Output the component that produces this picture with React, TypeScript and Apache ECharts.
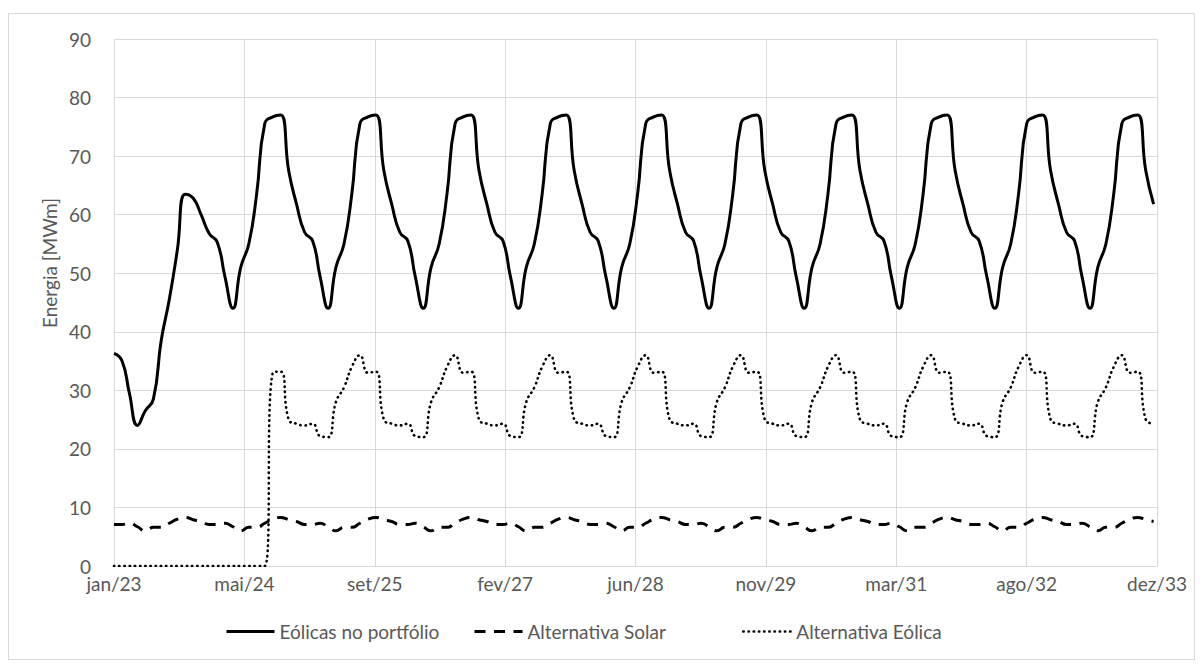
import React, { useEffect, useRef } from "react";
import * as echarts from "echarts";

// ---- categories (monthly, jan/23 .. dez/33) ----
const START_YEAR = 2023;
const MONTH_COUNT = 132;
const monthDates = Array.from({ length: MONTH_COUNT }, (_, i) => Date.UTC(START_YEAR, i, 1));

// ---- x axis tick labels (one every 500 days from 01/jan/23) ----
const xTickLabels = ["jan/23", "mai/24", "set/25", "fev/27", "jun/28", "nov/29", "mar/31", "ago/32", "dez/33"];
const X_TICK_DAYS = 500;

// ---- series values (MWm) ----
const eolicasPortfolio = [
  36.3, 35, 29.5, 24, 26.5, 28.5, 38.5, 45.5, 54, 63.5, 62.8, 60,
  56.8, 55.3, 49.5, 44, 51, 55, 63.5, 75.5, 76.7, 77, 67.5, 61.8,
  57, 55.5, 49.5, 44, 51, 55, 63.5, 75.5, 76.7, 77, 67.5, 61.8,
  57, 55.5, 49.5, 44, 51, 55, 63.5, 75.5, 76.7, 77, 67.5, 61.8,
  57, 55.5, 49.5, 44, 51, 55, 63.5, 75.5, 76.7, 77, 67.5, 61.8,
  57, 55.5, 49.5, 44, 51, 55, 63.5, 75.5, 76.7, 77, 67.5, 61.8,
  57, 55.5, 49.5, 44, 51, 55, 63.5, 75.5, 76.7, 77, 67.5, 61.8,
  57, 55.5, 49.5, 44, 51, 55, 63.5, 75.5, 76.7, 77, 67.5, 61.8,
  57, 55.5, 49.5, 44, 51, 55, 63.5, 75.5, 76.7, 77, 67.5, 61.8,
  57, 55.5, 49.5, 44, 51, 55, 63.5, 75.5, 76.7, 77, 67.5, 61.8,
  57, 55.5, 49.5, 44, 51, 55, 63.5, 75.5, 76.7, 77, 67.5, 61.8,
];

const alternativaSolar = [
  7.1, 7.1, 7.3, 6.7, 6.0, 6.6, 6.6, 7.3, 8.0, 8.3, 7.9, 7.6,
  7.1, 7.1, 7.3, 6.7, 6.0, 6.6, 6.6, 7.3, 8.0, 8.3, 7.9, 7.6,
  7.1, 7.1, 7.3, 6.7, 6.0, 6.6, 6.6, 7.3, 8.0, 8.3, 7.9, 7.6,
  7.1, 7.1, 7.3, 6.7, 6.0, 6.6, 6.6, 7.3, 8.0, 8.3, 7.9, 7.6,
  7.1, 7.1, 7.3, 6.7, 6.0, 6.6, 6.6, 7.3, 8.0, 8.3, 7.9, 7.6,
  7.1, 7.1, 7.3, 6.7, 6.0, 6.6, 6.6, 7.3, 8.0, 8.3, 7.9, 7.6,
  7.1, 7.1, 7.3, 6.7, 6.0, 6.6, 6.6, 7.3, 8.0, 8.3, 7.9, 7.6,
  7.1, 7.1, 7.3, 6.7, 6.0, 6.6, 6.6, 7.3, 8.0, 8.3, 7.9, 7.6,
  7.1, 7.1, 7.3, 6.7, 6.0, 6.6, 6.6, 7.3, 8.0, 8.3, 7.9, 7.6,
  7.1, 7.1, 7.3, 6.7, 6.0, 6.6, 6.6, 7.3, 8.0, 8.3, 7.9, 7.6,
  7.1, 7.1, 7.3, 6.7, 6.0, 6.6, 6.6, 7.3, 8.0, 8.3, 7.9, 7.6,
];

const alternativaEolica = [
  0, 0, 0, 0, 0, 0, 0, 0, 0, 0, 0, 0,
  0, 0, 0, 0, 0, 0, 0, 0, 33, 33.2, 25, 24.3,
  24, 24.3, 22.2, 22, 28, 30.5, 34, 36, 33, 33.2, 25, 24.3,
  24, 24.3, 22.2, 22, 28, 30.5, 34, 36, 33, 33.2, 25, 24.3,
  24, 24.3, 22.2, 22, 28, 30.5, 34, 36, 33, 33.2, 25, 24.3,
  24, 24.3, 22.2, 22, 28, 30.5, 34, 36, 33, 33.2, 25, 24.3,
  24, 24.3, 22.2, 22, 28, 30.5, 34, 36, 33, 33.2, 25, 24.3,
  24, 24.3, 22.2, 22, 28, 30.5, 34, 36, 33, 33.2, 25, 24.3,
  24, 24.3, 22.2, 22, 28, 30.5, 34, 36, 33, 33.2, 25, 24.3,
  24, 24.3, 22.2, 22, 28, 30.5, 34, 36, 33, 33.2, 25, 24.3,
  24, 24.3, 22.2, 22, 28, 30.5, 34, 36, 33, 33.2, 25, 24.3,
];

const SERIES_NAMES = ["Eólicas no portfólio", "Alternativa Solar", "Alternativa Eólica"];

const FONT = "Lato";
const FONT_SIZE = 19;
const TEXT_COLOR = "#595959";
const GRID_COLOR = "#d9d9d9";

const DAY_MS = 86400000;
const dayOffsets = monthDates.map((t) => (t - monthDates[0]) / DAY_MS);
const toPairs = (vals: number[]) => vals.map((v, i) => [dayOffsets[i], v]);

export default function App() {
  const ref = useRef<HTMLDivElement>(null);

  useEffect(() => {
    if (!ref.current) return;
    const chart = echarts.init(ref.current, null, { renderer: "svg" });

    const legendBase = {
      top: 608,
      padding: 0,
      itemWidth: 48,
      itemHeight: 14,
      itemGap: 0,
      itemStyle: { opacity: 0 },
      textStyle: { color: TEXT_COLOR, fontSize: FONT_SIZE, fontFamily: FONT },
    };

    chart.setOption({
      animation: false,
      backgroundColor: "#ffffff",
      textStyle: { fontFamily: FONT },
      grid: { left: 105, top: 25, width: 1043, height: 527, containLabel: false },
      xAxis: {
        type: "value",
        min: 0,
        max: X_TICK_DAYS * (xTickLabels.length - 1),
        interval: X_TICK_DAYS,
        axisLine: { show: true, lineStyle: { color: GRID_COLOR, width: 1 } },
        axisTick: { show: false },
        splitLine: { show: true, lineStyle: { color: GRID_COLOR, width: 1 } },
        axisLabel: {
          color: TEXT_COLOR,
          fontSize: FONT_SIZE,
          fontFamily: FONT,
          margin: 8,
          formatter: (v: number) => xTickLabels[Math.round(v / X_TICK_DAYS)] ?? "",
        },
      },
      yAxis: {
        type: "value",
        min: 0,
        max: 90,
        interval: 10,
        axisLine: { show: false },
        axisTick: { show: false },
        splitLine: { show: true, lineStyle: { color: GRID_COLOR, width: 1 } },
        axisLabel: { color: TEXT_COLOR, fontSize: FONT_SIZE, fontFamily: FONT, margin: 23 },
      },
      graphic: [
        {
          type: "text",
          x: 40,
          y: 249,
          rotation: Math.PI / 2,
          style: {
            text: "Energia [MWm]",
            fill: TEXT_COLOR,
            fontSize: FONT_SIZE,
            fontFamily: FONT,
            textAlign: "center",
            textVerticalAlign: "middle",
          },
        },
      ],
      legend: [
        { ...legendBase, left: 216, data: [SERIES_NAMES[0]], lineStyle: { width: 3 } },
        { ...legendBase, left: 464, data: [SERIES_NAMES[1]], lineStyle: { width: 3 } },
        { ...legendBase, left: 733, data: [SERIES_NAMES[2]], lineStyle: { width: 2.6 } },
      ],
      series: [
        {
          name: SERIES_NAMES[0],
          type: "line",
          data: toPairs(eolicasPortfolio),
          smooth: 0.5,
          symbol: "none",
          lineStyle: { color: "#000000", width: 3, type: "solid" },
          itemStyle: { color: "#000000" },
        },
        {
          name: SERIES_NAMES[1],
          type: "line",
          data: toPairs(alternativaSolar),
          smooth: 0.5,
          symbol: "none",
          lineStyle: { color: "#000000", width: 3, type: [11, 8.5], cap: "butt" },
          itemStyle: { color: "#000000" },
        },
        {
          name: SERIES_NAMES[2],
          type: "line",
          data: toPairs(alternativaEolica),
          smooth: 0.5,
          symbol: "none",
          lineStyle: { color: "#000000", width: 2.6, type: [0.4, 4.8], cap: "round" },
          itemStyle: { color: "#000000" },
        },
      ],
    });

    return () => chart.dispose();
  }, []);

  return (
    <div style={{ width: 1185, height: 645, border: `1px solid ${GRID_COLOR}`, marginTop: 5 }}>
      <div ref={ref} style={{ width: 1185, height: 645 }} />
    </div>
  );
}
